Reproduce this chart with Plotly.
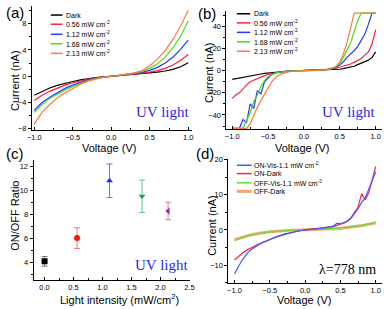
import plotly.graph_objects as go

W, H = 391, 309

# ---------------- data ----------------
# (a) UV I-V, 21 points
va = [-1.0, -0.9, -0.8, -0.7, -0.6, -0.5, -0.4, -0.3, -0.2, -0.1, 0.0,
      0.1, 0.2, 0.3, 0.4, 0.5, 0.6, 0.7, 0.8, 0.9, 1.0]
a_dark = [-2.9, -2.3, -1.8, -1.4, -1.05, -0.8, -0.55, -0.35, -0.2, -0.1, 0.0,
          0.08, 0.15, 0.25, 0.35, 0.48, 0.62, 0.8, 1.05, 1.45, 2.05]
a_056 = [-3.7, -2.9, -2.3, -1.8, -1.35, -1.0, -0.7, -0.45, -0.25, -0.1, 0.0,
         0.1, 0.2, 0.32, 0.45, 0.62, 0.85, 1.2, 1.7, 2.4, 3.3]
a_112 = [-5.2, -4.0, -3.2, -2.5, -1.85, -1.35, -0.9, -0.55, -0.3, -0.12, 0.0,
         0.12, 0.25, 0.4, 0.6, 0.9, 1.35, 2.0, 2.9, 4.1, 5.5]
a_168 = [-5.5, -4.3, -3.4, -2.7, -2.1, -1.55, -1.05, -0.65, -0.35, -0.15, 0.0,
         0.13, 0.27, 0.45, 0.75, 1.2, 1.9, 2.9, 4.3, 6.1, 8.4]
a_213 = [-7.3, -5.5, -4.3, -3.3, -2.5, -1.8, -1.2, -0.75, -0.4, -0.15, 0.0,
         0.13, 0.3, 0.5, 0.85, 1.6, 2.6, 3.9, 5.6, 7.6, 10.0]

# (b) 41 points
vb = [-1.00, -0.95, -0.90, -0.85, -0.80, -0.75, -0.70, -0.65, -0.60, -0.55, -0.50,
      -0.45, -0.40, -0.35, -0.30, -0.25, -0.20, -0.15, -0.10, -0.05, 0.00,
      0.05, 0.10, 0.15, 0.20, 0.25, 0.30, 0.35, 0.40, 0.45, 0.50,
      0.55, 0.60, 0.65, 0.70, 0.75, 0.80, 0.85, 0.90, 0.95, 1.00]
b_dark = [-7.9, -7.2, -6.5, -5.8, -5.2, -4.6, -4.0, -3.5, -3.0, -2.5, -2.1,
          -1.7, -1.3, -1.0, -0.7, -0.5, -0.3, -0.2, -0.1, -0.05, 0.0,
          0.05, 0.1, 0.2, 0.3, 0.4, 0.5, 0.6, 0.8, 1.0, 1.3,
          1.8, 2.4, 3.2, 4.0, 5.5, 7.0, 8.5, 9.5, 12.0, 17.0]
b_056 = [-25, -22, -20, -16, -13, -10, -8.5, -7, -5.5, -4.5, -3.5,
         -2.6, -2.0, -1.4, -1.0, -0.6, -0.4, -0.2, -0.1, -0.05, 0.0,
         0.05, 0.15, 0.3, 0.5, 0.7, 1.0, 1.5, 2.5, 2.2, 3.0,
         4.0, 5.0, 6.0, 7.5, 9.0, 11, 14, 17, 24, 37]
b_112 = [-52, -52, -52, -44, -47, -30, -34, -18, -21, -10, -7,
         -3.5, -2.0, -1.3, -0.8, -0.5, -0.3, -0.15, -0.08, -0.03, 0.0,
         0.05, 0.1, 0.2, 0.35, 0.5, 0.8, 1.2, 1.8, 3.0, 5.0,
         8.0, 12, 15, 18, 22, 28, 33, 42, 52, 52]
b_168 = [-52, -52, -52, -52, -45, -38, -28, -22, -14, -9, -5.5,
         -3.5, -2.2, -1.4, -0.8, -0.5, -0.3, -0.15, -0.08, -0.03, 0.0,
         0.05, 0.1, 0.2, 0.3, 0.5, 0.8, 1.2, 2.0, 4.0, 6.0,
         12, 18, 25, 35, 45, 52, 52, 52, 52, 52]
b_213 = [-52, -52, -52, -52, -52, -48, -40, -33, -27, -21, -15,
         -10, -6.5, -4.0, -2.5, -1.5, -0.9, -0.5, -0.25, -0.1, 0.0,
         0.05, 0.1, 0.2, 0.3, 0.5, 0.8, 1.3, 2.2, 4.0, 8.0,
         15, 25, 38, 52, 52, 52, 52, 52, 52, 52]

# (c) ON/OFF ratio
c_int = [0.0, 0.56, 1.12, 1.68, 2.13]
c_ratio = [4.08, 6.02, 10.8, 9.5, 8.28]
c_err = [0.4, 0.86, 1.4, 1.35, 0.73]

# (d) 41 points
vd = vb
d_on_vis = [-12.5, -10.5, -8.8, -7.5, -6.2, -5.4, -4.7, -4.1, -3.6, -3.1, -2.7,
            -2.3, -1.9, -1.6, -1.3, -1.0, -0.75, -0.5, -0.3, -0.15, 0.0,
            0.1, 0.2, 0.3, 0.4, 0.5, 0.65, 0.8, 1.1, 1.9, 1.8,
            2.0, 2.5, 3.3, 4.6, 6.0, 7.8, 9.0, 11.5, 14.0, 16.5]
d_on_dark = [-8.5, -7.5, -6.8, -6.0, -5.4, -4.9, -4.4, -3.9, -3.5, -3.0, -2.6,
             -2.2, -1.85, -1.5, -1.2, -0.95, -0.7, -0.5, -0.3, -0.15, 0.0,
             0.1, 0.2, 0.3, 0.4, 0.5, 0.6, 0.75, 0.95, 1.3, 1.6,
             2.0, 2.6, 3.5, 5.0, 6.5, 10.3, 8.5, 10.5, 14.0, 18.0]
d_off_vis = [-3.0, -2.6, -2.25, -1.95, -1.65, -1.4, -1.2, -1.0, -0.85, -0.7, -0.57,
             -0.46, -0.36, -0.27, -0.2, -0.14, -0.09, -0.05, -0.03, -0.01, 0.0,
             0.02, 0.04, 0.07, 0.1, 0.14, 0.19, 0.25, 0.32, 0.4, 0.5,
             0.6, 0.72, 0.85, 1.0, 1.15, 1.3, 1.5, 1.7, 1.9, 2.2]
d_off_dark = [-2.75, -2.4, -2.1, -1.8, -1.55, -1.3, -1.1, -0.93, -0.78, -0.65, -0.53,
              -0.43, -0.34, -0.26, -0.19, -0.13, -0.09, -0.05, -0.03, -0.01, 0.0,
              0.02, 0.04, 0.07, 0.1, 0.13, 0.18, 0.23, 0.3, 0.37, 0.46,
              0.55, 0.66, 0.78, 0.92, 1.06, 1.2, 1.38, 1.56, 1.75, 2.0]

uv_labels = ["Dark", "0.56 mW cm<sup>-2</sup>", "1.12 mW cm<sup>-2</sup>",
             "1.68 mW cm<sup>-2</sup>", "2.13 mW cm<sup>-2</sup>"]
d_labels = ["ON-Vis-1.1 mW cm<sup>-2</sup>", "ON-Dark",
            "OFF-Vis-1.1 mW cm<sup>-2</sup>", "OFF-Dark"]

# ---------------- styling ----------------
uv_colors = ["#000000", "#ff1f3a", "#2438ff", "#44dd1c", "#ff7a33"]
d_colors = ["#3a5cff", "#ff2040", "#5ee030", "#f6a06a"]
d_widths = [1.2, 1.2, 1.2, 3.0]
c_colors = ["#000000", "#ff1010", "#1030ff", "#2a9a62", "#b02890"]
c_errcolors = ["#777777", "#ff6d80", "#5c78ff", "#5cc48a", "#e070b8"]
c_symbols = ["square", "circle", "triangle-up", "triangle-down", "triangle-left"]

FONT = "Liberation Sans, Arial, sans-serif"
SERIF = "Liberation Serif, Times New Roman, serif"


def X(px):
    return px / W


def Y(py):
    return 1 - py / H


fig = go.Figure()

for ys, name, col in zip([a_dark, a_056, a_112, a_168, a_213], uv_labels, uv_colors):
    fig.add_trace(go.Scatter(x=va, y=ys, mode="lines", name=name, showlegend=False,
                             line=dict(color=col, width=1.2), xaxis="x", yaxis="y"))
for ys, name, col in zip([b_dark, b_056, b_112, b_168, b_213], uv_labels, uv_colors):
    fig.add_trace(go.Scatter(x=vb, y=ys, mode="lines", name=name, showlegend=False,
                             line=dict(color=col, width=1.2), xaxis="x2", yaxis="y2"))
for i in range(len(c_int)):
    fig.add_trace(go.Scatter(x=[c_int[i]], y=[c_ratio[i]], mode="markers", showlegend=False,
                             marker=dict(symbol=c_symbols[i], size=6, color=c_colors[i]),
                             error_y=dict(type="data", array=[c_err[i]], color=c_errcolors[i],
                                          thickness=1, width=3),
                             xaxis="x3", yaxis="y3"))
for ys, name, col, w in zip([d_off_dark, d_off_vis, d_on_dark, d_on_vis],
                            d_labels[::-1], d_colors[::-1], d_widths[::-1]):
    fig.add_trace(go.Scatter(x=vd, y=ys, mode="lines", name=name, showlegend=False,
                             line=dict(color=col, width=w), opacity=0.9 if w > 2 else 1,
                             xaxis="x4", yaxis="y4"))

tickfont = dict(family=FONT, size=7.5, color="black")


def xax(dom, rng, dtick, mdtick, anchor):
    return dict(domain=[X(dom[0]), X(dom[1])], range=rng, dtick=dtick, tick0=0,
                tickformat=".1f", showline=True, linecolor="black", linewidth=1,
                ticks="inside", ticklen=3, tickcolor="black", tickfont=tickfont,
                minor=dict(ticks="inside", ticklen=2, dtick=mdtick, tickcolor="black"),
                showgrid=False, zeroline=False, anchor=anchor, fixedrange=True)


def yax(dom, rng, dtick, mdtick, anchor):
    return dict(domain=[Y(dom[1]), Y(dom[0])], range=rng, dtick=dtick, tick0=0,
                tickformat="d", showline=True, linecolor="black", linewidth=1,
                ticks="outside", ticklen=3, tickcolor="black", tickfont=tickfont,
                minor=dict(ticks="outside", ticklen=2, dtick=mdtick, tickcolor="black"),
                showgrid=False, zeroline=False, anchor=anchor, fixedrange=True)


fig.update_layout(
    width=W, height=H, margin=dict(l=0, r=0, t=0, b=0),
    paper_bgcolor="white", plot_bgcolor="white", showlegend=False,
    xaxis=xax((27.7, 192), [-1.03, 1.05], 0.5, 0.25, "y"),
    yaxis=yax((2, 129), [-8.2, 10.7], 4, 2, "x"),
    xaxis2=xax((227.3, 387), [-1.08, 1.09], 0.5, 0.25, "y2"),
    yaxis2=yax((7, 128.3), [-53, 54], 20, 10, "x2"),
    xaxis3=xax((29.3, 190), [-0.19, 2.51], 0.5, 0.25, "y3"),
    yaxis3=yax((160, 282.7), [2.5, 12.5], 2, 1, "x3"),
    xaxis4=xax((229.3, 387), [-1.085, 1.09], 0.5, 0.25, "y4"),
    yaxis4=yax((159, 285.7), [-15.1, 20], 10, 5, "x4"),
)

ann = []
shapes = []


def text(px, py, s, size, family=FONT, color="black", angle=0, xanchor="center"):
    ann.append(dict(x=X(px), y=Y(py), xref="paper", yref="paper", text=s, showarrow=False,
                    xanchor=xanchor, yanchor="middle", textangle=angle, borderpad=0,
                    font=dict(family=family, size=size, color=color)))


# panel labels
text(10.5, 9, "(a)", 15)
text(207, 9.5, "(b)", 15)
text(10, 153, "(c)", 15)
text(205, 153, "(d)", 15)
# axis titles
text(107, 147, "Voltage (V)", 11)
text(305, 147, "Voltage (V)", 11)
text(117.5, 301.5, "Light intensity (mW/cm<sup>2</sup>)", 11)
text(306.7, 302.5, "Voltage (V)", 11)
text(10, 78, "Current (nA)", 11, angle=-90)
text(210, 70, "Current (nA)", 11, angle=-90)
text(10, 217, "ON/OFF Ratio", 11, angle=-90)
text(211.7, 226.7, "Current (nA)", 11, angle=-90)
# in-plot labels
text(162, 111, "UV light", 15, SERIF, "#2a2aee")
text(353, 111, "UV light", 15, SERIF, "#2a2aee")
text(160.5, 267, "UV light", 15, SERIF, "#2a2aee")
text(351.5, 271.5, "λ=778 nm", 14, SERIF, "black")


# legends (decorative swatches)
def legend(x0, x1, xt, rows, labels, colors, widths):
    for py, lab, col, w in zip(rows, labels, colors, widths):
        shapes.append(dict(type="line", xref="paper", yref="paper", x0=X(x0), x1=X(x1),
                           y0=Y(py), y1=Y(py), line=dict(color=col, width=w)))
        text(xt, py, lab, 7, xanchor="left")


legend(47, 59, 61.5, [11.3, 20.7, 31.0, 40.7, 50.5], uv_labels, uv_colors, [1.5] * 5)
legend(238, 251.7, 254.5, [10, 19.3, 29, 38.7, 48.3], uv_labels, uv_colors, [1.5] * 5)
legend(238, 253, 254.5, [165, 173.5, 183, 191.7], d_labels, d_colors, [1.5, 1.5, 1.5, 3])

fig.update_layout(annotations=ann, shapes=shapes)
fig.write_html("out.html", config={"displayModeBar": False, "staticPlot": True},
               post_script="document.body.style.margin='0';document.body.style.padding='0';")
